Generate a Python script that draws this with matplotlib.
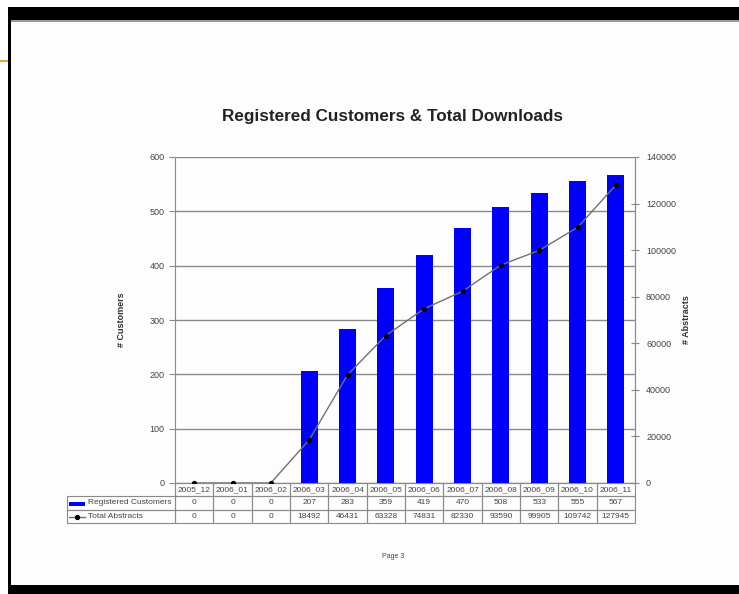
import matplotlib
matplotlib.use("Agg")
import matplotlib.pyplot as plt
from matplotlib.patches import Rectangle
from matplotlib.lines import Line2D

plt.rcParams['font.family'] = ['Liberation Sans', 'DejaVu Sans']

# data
months = ['2005_12', '2006_01', '2006_02', '2006_03', '2006_04', '2006_05',
          '2006_06', '2006_07', '2006_08', '2006_09', '2006_10', '2006_11']
customers = [0, 0, 0, 207, 283, 359, 419, 470, 508, 533, 555, 567]
abstracts = [0, 0, 0, 18492, 46431, 63328, 74831, 82330, 93590, 99905, 109742, 127945]

W, H = 739, 594
fig = plt.figure(figsize=(W / 100, H / 100), dpi=100)
fig.patch.set_facecolor('white')

def px(x0, y0, x1, y1):
    # pixel box -> figure fraction rect
    return (x0 / W, 1 - y1 / H, (x1 - x0) / W, (y1 - y0) / H)

# page frame (screenshot border)
r = px(11, 21, W, 585)
fig.patches.append(Rectangle(r[:2], r[2], r[3], transform=fig.transFigure,
                             facecolor='#fdfdfd', edgecolor='none', zorder=-2))
for box, col in [((8, 7, W, 20), 'black'), ((8, 7, 11, H), 'black'), ((8, 585, W, H), 'black'),
                 ((11, 20, W, 22), '#9a9a9a'), ((0, 60, 8, 62), '#f0a030')]:
    r = px(*box)
    fig.patches.append(Rectangle(r[:2], r[2], r[3], transform=fig.transFigure,
                                 facecolor=col, edgecolor='none', zorder=-1))

# plot area
L, R, T, B = 175, 635, 157, 483
ax = fig.add_axes(px(L, T, R, B))
ax.set_facecolor('none')
x = list(range(len(months)))
ax.bar(x, customers, width=0.44, color='#0000ff', zorder=3)
ax.set_xlim(-0.5, len(months) - 0.5)
ax.set_ylim(0, 600)
ax.set_yticks(range(0, 601, 100))
ax.set_xticks([])
ax.grid(axis='y', color='#8a8a8a', linewidth=1)
ax.set_axisbelow(True)
ax.spines['top'].set_visible(False)
for s in ['left', 'bottom', 'right']:
    ax.spines[s].set_color('#8a8a8a')
ax.tick_params(axis='y', colors='#8a8a8a', labelcolor='#444444', labelsize=6.5, length=4)
ax.set_ylabel('# Customers', fontsize=6.5, fontweight='bold', color='#333333', labelpad=17)

ax2 = ax.twinx()
ax2.plot(x, abstracts, color='#707070', linewidth=1, marker='o', markersize=2.8,
         markerfacecolor='black', markeredgecolor='black', zorder=4)
ax2.set_ylim(0, 140000)
ax2.set_yticks(range(0, 140001, 20000))
for s in ['top', 'left', 'bottom']:
    ax2.spines[s].set_visible(False)
ax2.spines['right'].set_color('#8a8a8a')
ax2.tick_params(axis='y', colors='#8a8a8a', labelcolor='#444444', labelsize=6.5,
                length=6, direction='inout', pad=5)
ax2.set_ylabel('# Abstracts', fontsize=6.5, fontweight='bold', color='#333333', labelpad=4)

ax.set_title('Registered Customers & Total Downloads', fontsize=12.3, fontweight='bold',
             color='#222222', pad=26, x=(393 - L) / (R - L))

# data table under the plot
rows = [['        Registered Customers'] + [str(v) for v in customers],
        ['        Total Abstracts'] + [str(v) for v in abstracts]]
lab_w = 108
col_w = (R - L) / len(months)
tw = lab_w + col_w * len(months)
tbl = ax.table(cellText=rows, colLabels=[''] + months,
               colWidths=[lab_w / tw] + [col_w / tw] * len(months),
               cellLoc='center',
               bbox=[(67 - L) / (R - L), (B - 523) / (B - T), tw / (R - L), 40 / (B - T)])
tbl.auto_set_font_size(False)
tbl.set_fontsize(6)
for (rr, c), cell in tbl.get_celld().items():
    cell.set_edgecolor('#8a8a8a')
    cell.set_linewidth(0.8)
    cell.set_facecolor('none')
    cell.get_text().set_color('#444444')
    if c == 0:
        cell.get_text().set_ha('left')
        cell._loc = 'left'
        cell.PAD = 0.02
    if rr == 0 and c == 0:
        cell.visible_edges = 'open'

# legend keys inside the table label cells
ax.add_patch(Rectangle(((69 - L) / (R - L), (B - 506) / (B - T)), 16 / (R - L), 4 / (B - T),
                       transform=ax.transAxes, facecolor='#0000ff', edgecolor='none',
                       clip_on=False, zorder=5))
ax.add_line(Line2D([(69 - L) / (R - L), (85 - L) / (R - L)], [(B - 517) / (B - T)] * 2,
                   transform=ax.transAxes, color='#707070', linewidth=1, clip_on=False))
ax.add_line(Line2D([(77 - L) / (R - L)], [(B - 517) / (B - T)], transform=ax.transAxes,
                   color='black', marker='o', markersize=2.8, clip_on=False))

fig.text(393 / W, 1 - 556 / H, 'Page 3', fontsize=5, color='#444444', ha='center', va='center')

fig.savefig('out.png', dpi=100)
